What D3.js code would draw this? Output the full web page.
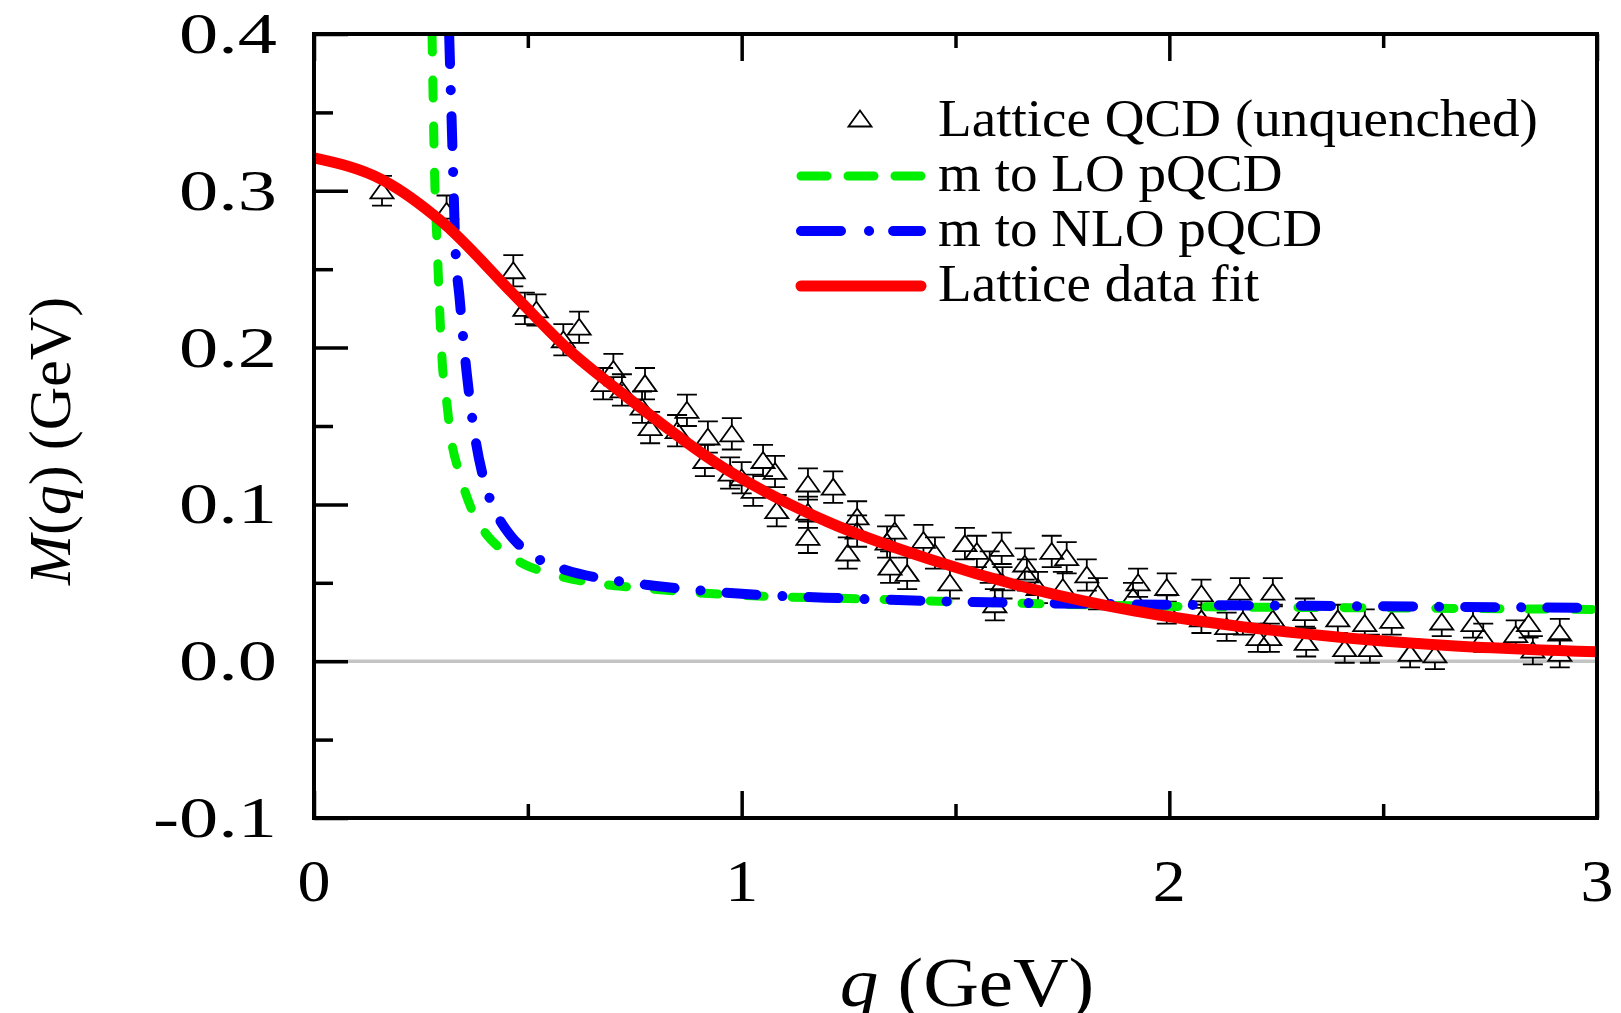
<!DOCTYPE html>
<html>
<head>
<meta charset="utf-8">
<script src="https://cdn.jsdelivr.net/npm/d3@7"></script>
<style>
  body { margin: 0; background: #fff; }
  text { font-family: "Liberation Serif", "Times New Roman", serif; fill: #000; }
</style>
</head>
<body>
<div id="viz"></div>
<script>
// lattice points, q (GeV) and M(q) (GeV)
var latQ = [0.159, 0.31, 0.466, 0.493, 0.52, 0.583, 0.62, 0.676, 0.70, 0.72,
  0.767, 0.774, 0.786, 0.849, 0.872, 0.914, 0.921, 0.973, 0.977, 1.00,
  1.027, 1.05, 1.078, 1.082, 1.155, 1.155, 1.155, 1.214, 1.248, 1.27,
  1.27, 1.34, 1.347, 1.358, 1.387, 1.425, 1.452, 1.487, 1.522, 1.55,
  1.58, 1.592, 1.608, 1.61, 1.662, 1.667, 1.693, 1.725, 1.751, 1.76,
  1.807, 1.833, 1.915, 1.927, 1.994, 1.994, 2.075, 2.075, 2.134, 2.165,
  2.172, 2.207, 2.235, 2.242, 2.242, 2.317, 2.32, 2.394, 2.41, 2.457,
  2.469, 2.52, 2.563, 2.621, 2.637, 2.71, 2.734, 2.81, 2.84, 2.85,
  2.913, 2.913];
var latM = [0.300, 0.287, 0.249, 0.225, 0.224, 0.205, 0.213, 0.177, 0.186, 0.173,
  0.162, 0.177, 0.149, 0.147, 0.160, 0.128, 0.143, 0.120, 0.145, 0.117,
  0.109, 0.128, 0.121, 0.096, 0.113, 0.095, 0.079, 0.111, 0.069, 0.092,
  0.083, 0.076, 0.060, 0.083, 0.056, 0.077, 0.069, 0.050, 0.075, 0.070,
  0.060, 0.036, 0.072, 0.050, 0.062, 0.055, 0.047, 0.070, 0.047, 0.066,
  0.055, 0.043, 0.041, 0.050, 0.047, 0.033, 0.043, 0.027, 0.022, 0.044,
  0.026, 0.015, 0.015, 0.044, 0.027, 0.031, 0.012, 0.027, 0.008, 0.024,
  0.008, 0.026, 0.005, 0.004, 0.025, 0.024, 0.015, 0.017, 0.024, 0.007,
  0.018, 0.005];
var latErr = [0.0095, 0.010, 0.010, 0.010, 0.010, 0.010, 0.010, 0.010, 0.010, 0.010,
  0.010, 0.010, 0.010, 0.010, 0.010, 0.010, 0.010, 0.010, 0.010, 0.010,
  0.010, 0.010, 0.010, 0.010, 0.010, 0.010, 0.010, 0.010, 0.010, 0.010,
  0.010, 0.010, 0.010, 0.010, 0.010, 0.010, 0.010, 0.010, 0.010, 0.010,
  0.010, 0.010, 0.010, 0.010, 0.010, 0.010, 0.010, 0.010, 0.010, 0.010,
  0.010, 0.010, 0.009, 0.009, 0.009, 0.009, 0.009, 0.009, 0.009, 0.009,
  0.009, 0.009, 0.009, 0.009, 0.009, 0.009, 0.009, 0.009, 0.009, 0.009,
  0.009, 0.009, 0.009, 0.009, 0.009, 0.009, 0.009, 0.009, 0.009, 0.009,
  0.009, 0.009];

// m to LO pQCD (green dashed)
var loQ = [0.276, 0.283, 0.288, 0.295, 0.30, 0.31, 0.32, 0.34, 0.37, 0.40,
  0.435, 0.49, 0.55, 0.65, 0.75, 1.0, 1.25, 1.5, 2.0, 2.5, 3.0];
var loM = [0.40, 0.30, 0.265, 0.217, 0.19, 0.166, 0.143, 0.12, 0.096, 0.082,
  0.072, 0.062, 0.056, 0.050, 0.047, 0.042, 0.040, 0.038, 0.035, 0.034, 0.033];

// m to NLO pQCD (blue dash-dot)
var nloQ = [0.316, 0.325, 0.33, 0.341, 0.357, 0.379, 0.40, 0.427, 0.46, 0.493,
  0.54, 0.59, 0.69, 0.8, 1.0, 1.25, 1.5, 2.0, 2.5, 3.0];
var nloM = [0.40, 0.315, 0.268, 0.23, 0.184, 0.139, 0.113, 0.094, 0.080, 0.071,
  0.063, 0.058, 0.052, 0.048, 0.043, 0.040, 0.038, 0.036, 0.035, 0.034];

// lattice data fit (red)
var fitQ = [0.0, 0.16, 0.30, 0.47, 0.59, 0.72, 0.96, 1.2, 1.44, 1.68,
  1.92, 2.17, 2.41, 2.65, 3.0];
var fitM = [0.321, 0.307, 0.280, 0.233, 0.200, 0.171, 0.123, 0.089, 0.065, 0.046,
  0.032, 0.022, 0.015, 0.010, 0.006];

var xTicks = [0, 1, 2, 3];
var xMinor = [0.5, 1.5, 2.5];
var xTickLabels = ['0', '1', '2', '3'];
var yTicks = [-0.1, 0, 0.1, 0.2, 0.3, 0.4];
var yMinor = [-0.05, 0.05, 0.15, 0.25, 0.35];
var yTickLabels = ['-0.1', '0.0', '0.1', '0.2', '0.3', '0.4'];

var legendLabels = ['Lattice QCD (unquenched)', 'm to LO pQCD', 'm to NLO pQCD', 'Lattice data fit'];

var W = 1621, H = 1013;
// plot box (named px* because window.top is read-only)
var pxL = 314, pxR = 1597, pxT = 34, pxB = 818;

var svg = d3.select('#viz').append('svg')
  .attr('width', W)
  .attr('height', H);

var x = d3.scaleLinear().domain([0, 3]).range([pxL, pxR]);
var y = d3.scaleLinear().domain([-0.1, 0.4]).range([pxB, pxT]);

svg.append('clipPath').attr('id', 'clip')
  .append('rect')
  .attr('x', pxL).attr('y', pxT)
  .attr('width', pxR - pxL).attr('height', pxB - pxT);

// zero line
svg.append('line')
  .attr('x1', pxL).attr('x2', pxR)
  .attr('y1', y(0)).attr('y2', y(0))
  .attr('stroke', '#c4c4c4')
  .attr('stroke-width', 3.5);

var plot = svg.append('g').attr('clip-path', 'url(#clip)');

// lattice points with error bars
var pts = latQ.map(function(q, i) { return {q: q, m: latM[i], e: latErr[i]}; });
var tri = 'M-11.5,7.5L0,-8.5L11.5,7.5Z';

var pg = plot.append('g')
  .selectAll('g')
  .data(pts)
  .join('g')
  .attr('transform', function(d) { return 'translate(' + x(d.q) + ',' + y(d.m) + ')'; });

pg.append('path')
  .attr('d', function(d) {
    var h = y(d.m - d.e) - y(d.m);
    return 'M0,' + (-h) + 'V-8.5M-10,' + (-h) + 'H10' +
      'M0,7.5V' + h + 'M-10,' + h + 'H10';
  })
  .attr('fill', 'none')
  .attr('stroke', '#000')
  .attr('stroke-width', 1.8);

pg.append('path')
  .attr('d', tri)
  .attr('fill', 'none')
  .attr('stroke', '#000')
  .attr('stroke-width', 1.8);

var line = d3.line()
  .x(function(d) { return x(d[0]); })
  .y(function(d) { return y(d[1]); })
  .curve(d3.curveMonotoneX);

function zip(a, b) { return a.map(function(v, i) { return [v, b[i]]; }); }

plot.append('path')
  .attr('d', line(zip(loQ, loM)))
  .attr('fill', 'none')
  .attr('stroke', '#00ee00')
  .attr('stroke-width', 9)
  .attr('stroke-linecap', 'round')
  .attr('stroke-dasharray', '18,28');

plot.append('path')
  .attr('d', line(zip(nloQ, nloM)))
  .attr('fill', 'none')
  .attr('stroke', '#0000ff')
  .attr('stroke-width', 10)
  .attr('stroke-linecap', 'round')
  .attr('stroke-dasharray', '30,26,0.1,26');

plot.append('path')
  .attr('d', line(zip(fitQ, fitM)))
  .attr('fill', 'none')
  .attr('stroke', '#ff0000')
  .attr('stroke-width', 11);

// ticks (inward)
function tickStyle(g) {
  g.select('.domain').remove();
  g.selectAll('.tick line').attr('stroke', '#000').attr('stroke-width', 3.5);
  g.selectAll('.tick text').remove();
}

svg.append('g').attr('transform', 'translate(0,' + pxB + ')')
  .call(d3.axisBottom(x).tickValues(xTicks).tickSize(-27).tickSizeOuter(0)).call(tickStyle);
svg.append('g').attr('transform', 'translate(0,' + pxB + ')')
  .call(d3.axisBottom(x).tickValues(xMinor).tickSize(-14).tickSizeOuter(0)).call(tickStyle);
svg.append('g').attr('transform', 'translate(0,' + pxT + ')')
  .call(d3.axisTop(x).tickValues(xTicks).tickSize(-27).tickSizeOuter(0)).call(tickStyle);
svg.append('g').attr('transform', 'translate(0,' + pxT + ')')
  .call(d3.axisTop(x).tickValues(xMinor).tickSize(-14).tickSizeOuter(0)).call(tickStyle);
svg.append('g').attr('transform', 'translate(' + pxL + ',0)')
  .call(d3.axisLeft(y).tickValues(yTicks).tickSize(-34).tickSizeOuter(0)).call(tickStyle);
svg.append('g').attr('transform', 'translate(' + pxL + ',0)')
  .call(d3.axisLeft(y).tickValues(yMinor).tickSize(-19).tickSizeOuter(0)).call(tickStyle);

// frame
svg.append('rect')
  .attr('x', pxL).attr('y', pxT)
  .attr('width', pxR - pxL).attr('height', pxB - pxT)
  .attr('fill', 'none')
  .attr('stroke', '#000')
  .attr('stroke-width', 4);

// tick labels
svg.append('g').selectAll('text')
  .data(xTicks)
  .join('text')
  .attr('transform', function(d) { return 'translate(' + x(d) + ',901) scale(1.1,1)'; })
  .attr('text-anchor', 'middle')
  .attr('font-size', 60)
  .text(function(d, i) { return xTickLabels[i]; });

svg.append('g').selectAll('text')
  .data(yTicks)
  .join('text')
  .attr('transform', function(d) { return 'translate(277,' + y(d) + ') scale(1.4,1)'; })
  .attr('text-anchor', 'end')
  .attr('dy', '0.34em')
  .attr('font-size', 56)
  .text(function(d, i) { return yTickLabels[i]; });

// axis titles
var xt = svg.append('text')
  .attr('transform', 'translate(967,1006) scale(1.1,1)')
  .attr('text-anchor', 'middle')
  .attr('font-size', 70);
xt.append('tspan').attr('font-style', 'italic').text('q');
xt.append('tspan').text(' (GeV)');

var yt = svg.append('text')
  .attr('transform', 'translate(70,441) rotate(-90)')
  .attr('text-anchor', 'middle')
  .attr('font-size', 60);
yt.append('tspan').attr('font-style', 'italic').text('M');
yt.append('tspan').text('(');
yt.append('tspan').attr('font-style', 'italic').text('q');
yt.append('tspan').text(') (GeV)');

// legend
var legY = [136, 191, 246, 301];
var leg = svg.append('g');
leg.selectAll('text')
  .data(legendLabels)
  .join('text')
  .attr('transform', function(d, i) { return 'translate(938,' + legY[i] + ') scale(1.06,1)'; })
  .attr('font-size', 52)
  .text(function(d) { return d; });

leg.append('path')
  .attr('transform', 'translate(860,' + (legY[0] - 17) + ')')
  .attr('d', tri)
  .attr('fill', 'none')
  .attr('stroke', '#000')
  .attr('stroke-width', 1.8);

leg.append('line')
  .attr('x1', 801).attr('x2', 921)
  .attr('y1', legY[1] - 15).attr('y2', legY[1] - 15)
  .attr('stroke', '#00ee00').attr('stroke-width', 9)
  .attr('stroke-linecap', 'round').attr('stroke-dasharray', '26,21');

leg.append('line')
  .attr('x1', 801).attr('x2', 921)
  .attr('y1', legY[2] - 15).attr('y2', legY[2] - 15)
  .attr('stroke', '#0000ff').attr('stroke-width', 10)
  .attr('stroke-linecap', 'round').attr('stroke-dasharray', '40,28,0.1,24');

leg.append('line')
  .attr('x1', 801).attr('x2', 921)
  .attr('y1', legY[3] - 15).attr('y2', legY[3] - 15)
  .attr('stroke', '#ff0000').attr('stroke-width', 11)
  .attr('stroke-linecap', 'round');
</script>
</body>
</html>
